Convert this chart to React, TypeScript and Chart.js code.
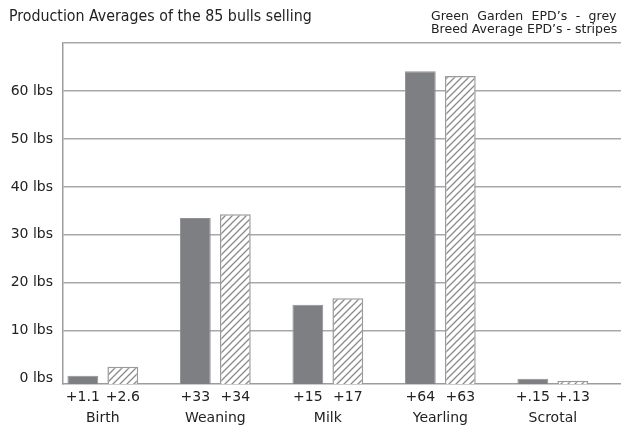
import React, { useEffect, useRef } from 'react';
import { Chart, registerables } from 'chart.js';

Chart.register(...registerables);

const TITLE = 'Production Averages of the 85 bulls selling';
const LEGEND_LINES = ['Green Garden EPD’s - grey', 'Breed Average EPD’s - stripes'];

const categories = ['Birth', 'Weaning', 'Milk', 'Yearling', 'Scrotal'];
const greenGardenValues = [0.6, 33.5, 15.4, 64.1, 0.0];
const breedAverageValues = [2.5, 34.3, 16.8, 63.1, -0.4];
const greenGardenLabels = ['+1.1', '+33', '+15', '+64', '+.15'];
const breedAverageLabels = ['+2.6', '+34', '+17', '+63', '+.13'];
const yTicks = [0, 10, 20, 30, 40, 50, 60, 70];
const yLabelledTicks = [0, 10, 20, 30, 40, 50, 60];

const Y_MIN = -1.1;
const Y_MAX = 70;
const X_MIN = -0.354;
const X_MAX = 4.606;

const TEXT_COLOR = '#222222';
const GRID_COLOR = '#a8a8a8';
const BAR_GREY = '#7e7f83';

function makeStripePattern(ctx: CanvasRenderingContext2D): CanvasPattern | string {
  const size = 7;
  const c = document.createElement('canvas');
  c.width = size;
  c.height = size;
  const p = c.getContext('2d');
  if (!p) return '#ffffff';
  p.fillStyle = '#ffffff';
  p.fillRect(0, 0, size, size);
  p.strokeStyle = '#8a8a8a';
  p.lineWidth = 1.3;
  p.beginPath();
  p.moveTo(-1, size + 1);
  p.lineTo(size + 1, -1);
  p.moveTo(-2, 2);
  p.lineTo(2, -2);
  p.moveTo(size - 2, size + 2);
  p.lineTo(size + 2, size - 2);
  p.stroke();
  return ctx.createPattern(c, 'repeat') || '#ffffff';
}

const textPlugin = {
  id: 'extraTexts',
  afterDraw(chart: any) {
    const ctx: CanvasRenderingContext2D = chart.ctx;
    ctx.save();
    ctx.fillStyle = TEXT_COLOR;
    ctx.textAlign = 'left';
    ctx.textBaseline = 'alphabetic';
    ctx.font = '15.8px "DejaVu Sans Condensed", "Liberation Sans Narrow", sans-serif';
    ctx.fillText(TITLE, 9, 21);

    ctx.font = '12.5px "DejaVu Sans", sans-serif';
    (ctx as any).wordSpacing = '4.5px';
    ctx.fillText(LEGEND_LINES[0], 431, 20);
    (ctx as any).wordSpacing = '0px';
    ctx.fillText(LEGEND_LINES[1], 431, 33);

    ctx.font = '14px "DejaVu Sans", sans-serif';
    ctx.textAlign = 'center';
    ctx.textBaseline = 'middle';
    [greenGardenLabels, breedAverageLabels].forEach((labels, di) => {
      const meta = chart.getDatasetMeta(di);
      meta.data.forEach((el: any, i: number) => {
        ctx.fillText(labels[i], el.x, chart.chartArea.bottom + 13);
      });
    });
    ctx.restore();
  },
};

export default function App() {
  const canvasRef = useRef<HTMLCanvasElement | null>(null);

  useEffect(() => {
    const canvas = canvasRef.current;
    if (!canvas) return;
    const ctx = canvas.getContext('2d');
    if (!ctx) return;
    const stripes = makeStripePattern(ctx);

    const chart = new Chart(ctx, {
      type: 'bar',
      data: {
        datasets: [
          {
            label: 'Green Garden EPD’s',
            data: greenGardenValues.map((v, i) => ({ x: i, y: v })),
            backgroundColor: BAR_GREY,
            borderColor: '#909195',
            borderWidth: 1,
            base: Y_MIN,
            categoryPercentage: 0.711,
            barPercentage: 0.77,
          } as any,
          {
            label: 'Breed Average EPD’s',
            data: breedAverageValues.map((v, i) => ({ x: i, y: v })),
            backgroundColor: stripes as any,
            borderColor: '#9a9a9a',
            borderWidth: 1.5,
            base: Y_MIN,
            categoryPercentage: 0.711,
            barPercentage: 0.77,
          } as any,
        ],
      },
      options: {
        responsive: false,
        animation: false,
        layout: { padding: { top: 43, left: 0, right: 0, bottom: 0 } },
        plugins: {
          legend: { display: false },
          title: { display: false },
          tooltip: { enabled: false },
        },
        scales: {
          x: {
            type: 'linear',
            min: X_MIN,
            max: X_MAX,
            offset: false,
            afterBuildTicks: (scale: any) => {
              scale.ticks = categories.map((_, i) => ({ value: i }));
            },
            afterFit: (scale: any) => {
              scale.height = 41;
            },
            grid: { display: false, drawTicks: false },
            border: { display: true, color: '#9c9c9c', width: 1.5 },
            ticks: {
              autoSkip: false,
              maxRotation: 0,
              padding: 26,
              color: TEXT_COLOR,
              font: { family: '"DejaVu Sans", sans-serif', size: 14 },
              callback: (v: any) => categories[Math.round(Number(v))] ?? '',
            },
          },
          y: {
            type: 'linear',
            min: Y_MIN,
            max: Y_MAX,
            afterBuildTicks: (scale: any) => {
              scale.ticks = yTicks.map((v) => ({ value: v }));
            },
            afterFit: (scale: any) => {
              scale.width = 63;
            },
            grid: {
              drawTicks: false,
              lineWidth: 1.5,
              color: (c: any) => (c.tick && c.tick.value === 0 ? 'rgba(0,0,0,0)' : GRID_COLOR),
            },
            border: { display: true, color: '#9c9c9c', width: 1.5 },
            ticks: {
              padding: 10,
              color: TEXT_COLOR,
              font: { family: '"DejaVu Sans", sans-serif', size: 14 },
              callback: (v: any) => (yLabelledTicks.includes(Number(v)) ? `${v} lbs` : ''),
            },
          },
        },
      },
      plugins: [textPlugin],
    });

    return () => {
      chart.destroy();
    };
  }, []);

  return (
    <div style={{ position: 'fixed', left: 0, top: 0, width: 621, height: 425, background: '#ffffff' }}>
      <canvas ref={canvasRef} width={621} height={425} style={{ width: 621, height: 425, display: 'block' }} />
    </div>
  );
}
